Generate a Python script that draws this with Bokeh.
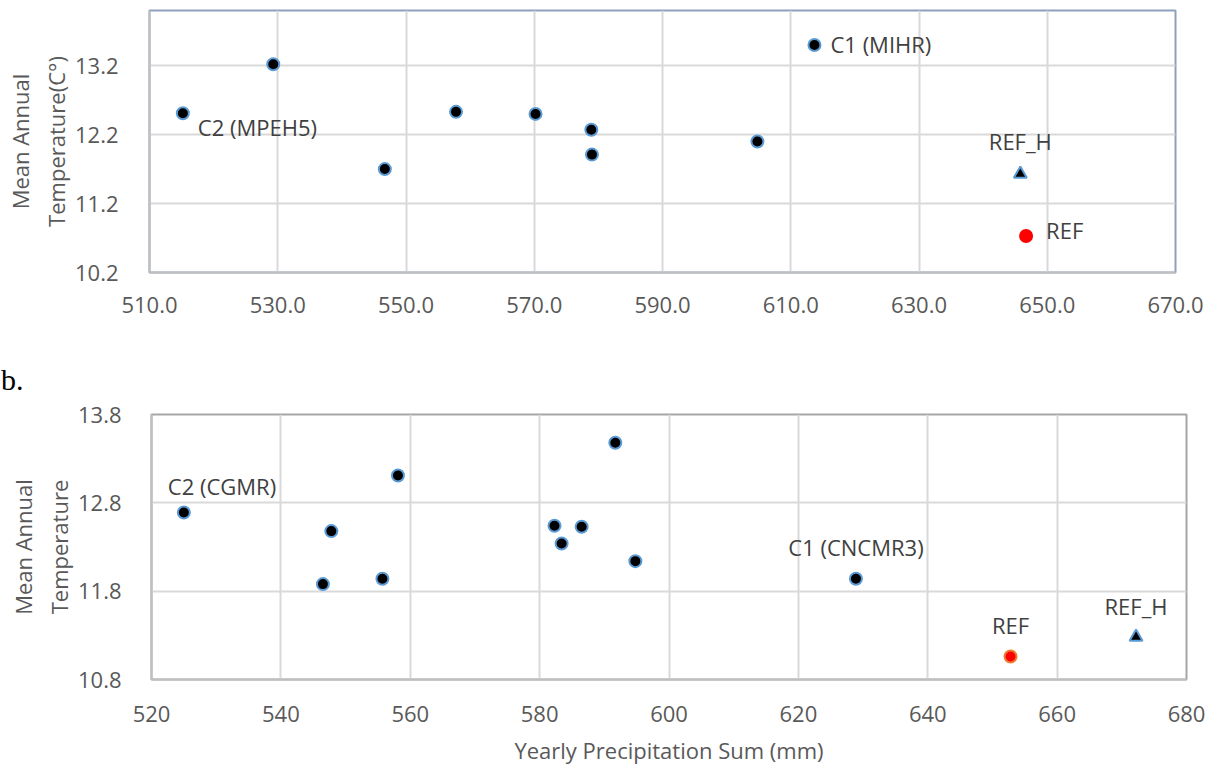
from bokeh.plotting import figure
from bokeh.models import FixedTicker, NumeralTickFormatter, Range1d, Div
from bokeh.layouts import column, row
from bokeh.embed import file_html
from bokeh.resources import INLINE
from bokeh.core.properties import value

# ---------------- data: panel a ----------------
a_precip = [515.2, 529.3, 546.7, 557.8, 570.2, 578.9, 579.0, 604.8, 613.7]
a_temp = [12.51, 13.22, 11.70, 12.53, 12.50, 12.27, 11.91, 12.10, 13.50]
a_ref_precip = [646.7]
a_ref_temp = [10.73]
a_refh_precip = [645.8]
a_refh_temp = [11.63]
a_xticks = [510, 530, 550, 570, 590, 610, 630, 650, 670]
a_yticks = [10.2, 11.2, 12.2, 13.2]

# ---------------- data: panel b ----------------
b_precip = [525.0, 547.8, 546.5, 555.7, 558.1, 591.7, 582.3, 586.5, 583.4, 594.8, 628.9]
b_temp = [12.69, 12.48, 11.88, 11.94, 13.11, 13.48, 12.54, 12.53, 12.34, 12.14, 11.94]
b_ref_precip = [652.8]
b_ref_temp = [11.06]
b_refh_precip = [672.2]
b_refh_temp = [11.28]
b_xticks = [520, 540, 560, 580, 600, 620, 640, 660, 680]
b_yticks = [10.8, 11.8, 12.8, 13.8]

FONT = "Open Sans"
FS = "22px"
TICK_COLOR = "#595959"
LABEL_COLOR = "#404040"
GRID = "#D9D9D9"
BLUE = "#5B9BD5"


def style(p, xt, yt, xfmt, yfmt, xstand, ystand):
    p.xaxis.ticker = FixedTicker(ticks=xt)
    p.yaxis.ticker = FixedTicker(ticks=yt)
    p.xaxis.formatter = NumeralTickFormatter(format=xfmt)
    p.yaxis.formatter = NumeralTickFormatter(format=yfmt)
    for ax in (p.xaxis, p.yaxis):
        ax.major_tick_line_color = None
        ax.minor_tick_line_color = None
        ax.axis_line_color = "#BFBFBF"
        ax.axis_line_width = 2
        ax.major_label_text_font = FONT
        ax.major_label_text_font_size = FS
        ax.major_label_text_color = TICK_COLOR
        ax.axis_label_text_font = FONT
        ax.axis_label_text_font_size = FS
        ax.axis_label_text_font_style = "normal"
        ax.axis_label_text_color = TICK_COLOR
    p.xaxis.major_label_standoff = xstand
    p.yaxis.major_label_standoff = ystand
    p.xgrid.grid_line_color = GRID
    p.ygrid.grid_line_color = GRID
    p.xgrid.grid_line_width = 2
    p.ygrid.grid_line_width = 2
    p.xgrid.ticker = FixedTicker(ticks=xt)
    p.ygrid.ticker = FixedTicker(ticks=yt)


def label(p, x, y, txt, dx, dy, align="left"):
    p.text(x=x, y=y, text=[txt], x_offset=dx, y_offset=dy,
           text_font=value(FONT), text_font_size=FS, text_color=LABEL_COLOR,
           text_align=align, text_baseline="middle")


# ---------------- panel a ----------------
pa = figure(width=1216, height=340, output_backend="svg", toolbar_location=None,
            x_range=Range1d(510, 670), y_range=Range1d(10.2, 14.0),
            min_border_left=149, min_border_right=41, min_border_top=10, min_border_bottom=68)
pa.outline_line_color = "#8EA0BC"
pa.outline_line_width = 2
style(pa, a_xticks, a_yticks, "0.0", "0.0", 18, 25)
pa.yaxis.axis_label = "Mean Annual\nTemperature(C°)"
pa.yaxis.axis_label_standoff = 1

pa.scatter(a_precip, a_temp, size=12, fill_color="black", line_color=BLUE, line_width=2)
pa.scatter(a_refh_precip, a_refh_temp, marker="triangle", size=13, fill_color="black",
           line_color=BLUE, line_width=2)
pa.scatter(a_ref_precip, a_ref_temp, size=12, fill_color="red", line_color="red", line_width=2)

label(pa, [a_precip[0]], [a_temp[0]], "C2 (MPEH5)", 15, 14)
label(pa, [a_precip[-1]], [a_temp[-1]], "C1 (MIHR)", 16, -1)
label(pa, a_refh_precip, a_refh_temp, "REF_H", 0, -33, "center")
label(pa, a_ref_precip, a_ref_temp, "REF", 20, -6)

# ---------------- "b." ----------------
div = Div(text="b.", width=1216, height=50, margin=(0, 0, 0, 0),
          styles={"font-family": "Liberation Serif", "font-size": "30px",
                  "color": "black", "line-height": "30px", "padding-top": "25px",
                  "padding-left": "1px"})

# ---------------- panel b ----------------
pb = figure(width=1216, height=377, output_backend="svg", toolbar_location=None,
            x_range=Range1d(520, 680), y_range=Range1d(10.8, 13.8),
            min_border_left=151, min_border_right=30, min_border_top=24, min_border_bottom=88)
pb.outline_line_color = "#A6A6A6"
pb.outline_line_width = 2
style(pb, b_xticks, b_yticks, "0", "0.0", 20, 24)
pb.yaxis.axis_label = "Mean Annual\nTemperature"
pb.yaxis.axis_label_standoff = 1
pb.xaxis.axis_label = "Yearly Precipitation Sum (mm)"
pb.xaxis.axis_label_standoff = 10

pb.scatter(b_precip, b_temp, size=12, fill_color="black", line_color=BLUE, line_width=2)
pb.scatter(b_refh_precip, b_refh_temp, marker="triangle", size=13, fill_color="black",
           line_color=BLUE, line_width=2)
pb.scatter(b_ref_precip, b_ref_temp, size=12, fill_color="red", line_color="#ED7D31", line_width=2)

label(pb, [b_precip[0]], [b_temp[0]], "C2 (CGMR)", -16, -27)
label(pb, [b_precip[-1]], [b_temp[-1]], "C1 (CNCMR3)", 0, -32, "center")
label(pb, b_ref_precip, b_ref_temp, "REF", 0, -32, "center")
label(pb, b_refh_precip, b_refh_temp, "REF_H", 0, -31, "center")

layout = column(row(pa), div, row(pb), spacing=0)
open("out.html", "w").write(file_html(layout, INLINE))
